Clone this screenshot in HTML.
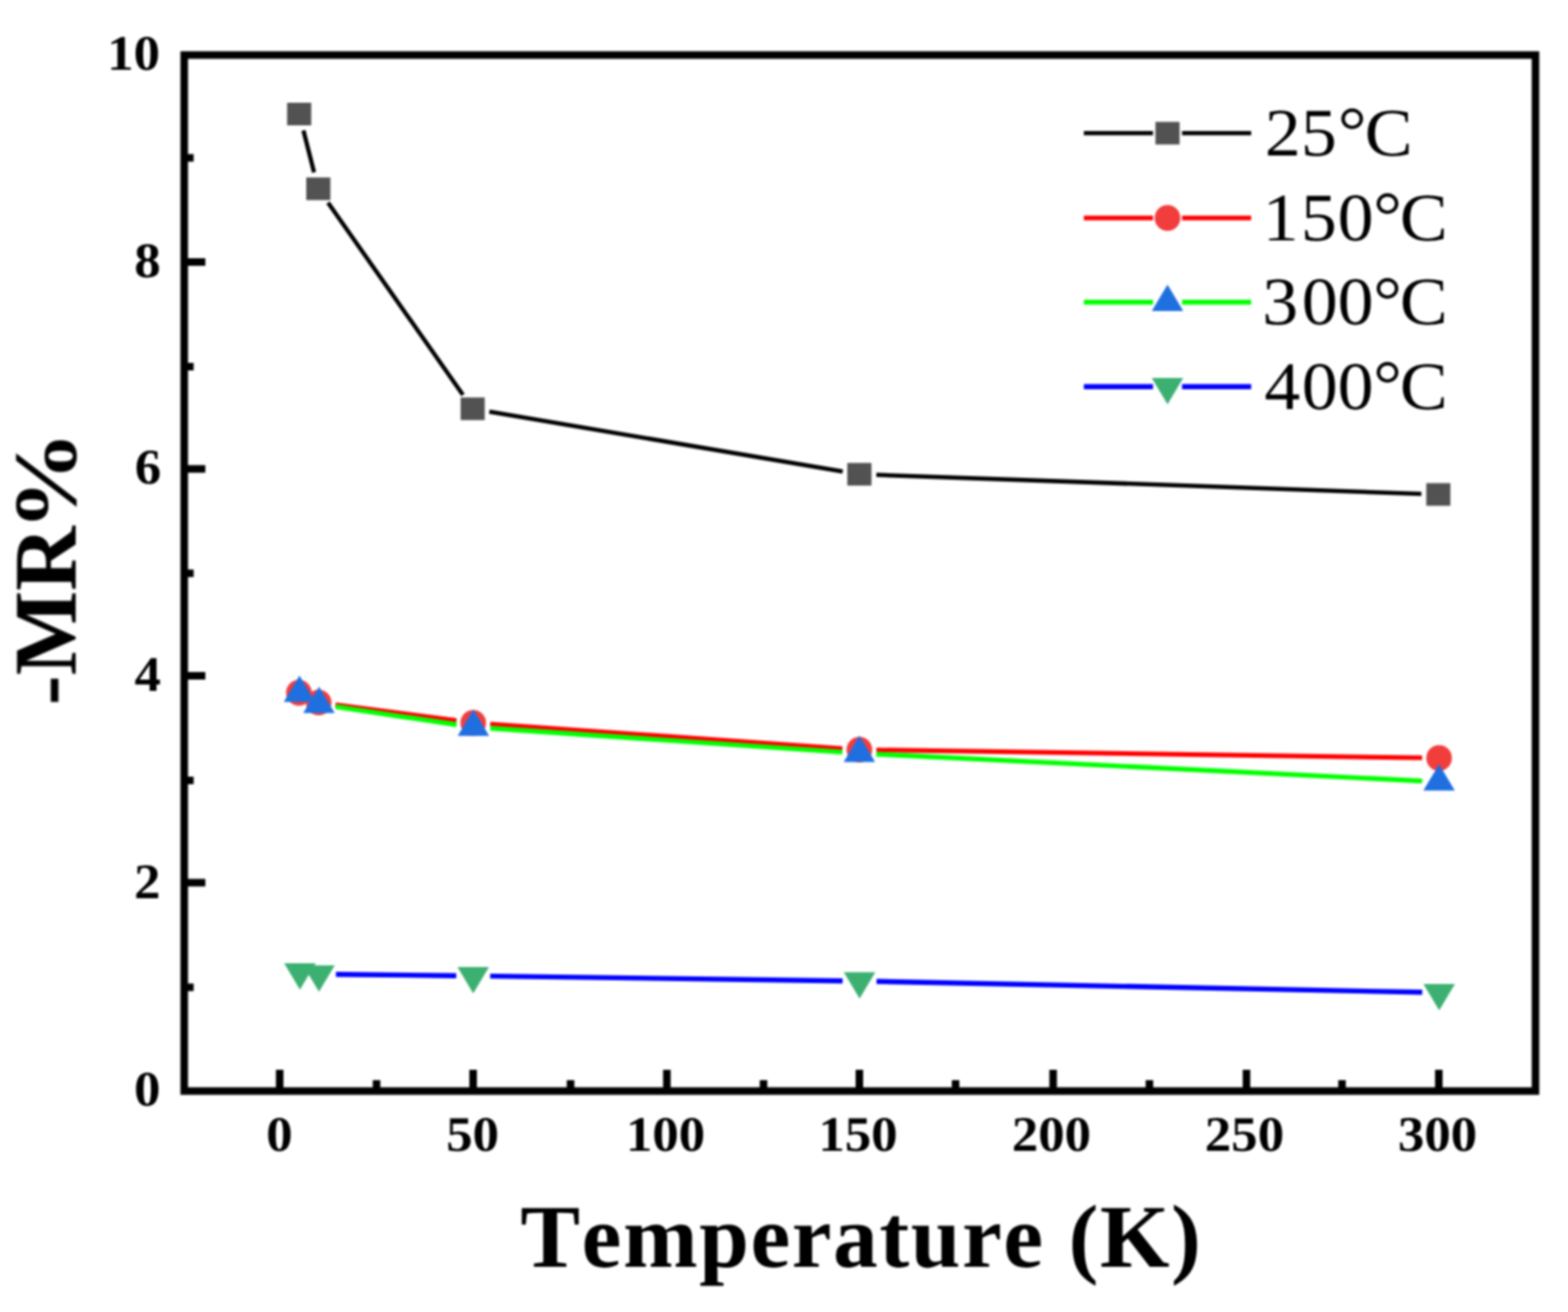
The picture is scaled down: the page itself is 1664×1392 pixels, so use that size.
<!DOCTYPE html>
<html lang="en"><head><meta charset="utf-8"><title>-MR% vs Temperature (K)</title>
<style>html,body{margin:0;padding:0;background:#fff}body{width:1664px;height:1392px;overflow:hidden}svg{display:block}text{font-family:"Liberation Serif","DejaVu Serif",serif;fill:#000;font-kerning:none;font-feature-settings:"kern" 0,"liga" 0;text-rendering:geometricPrecision}.b{font-weight:bold}</style></head><body>
<svg width="1664" height="1392" viewBox="0 0 1664 1392">
<defs><filter id="soft" x="0" y="0" width="1664" height="1392" filterUnits="userSpaceOnUse" color-interpolation-filters="sRGB"><feGaussianBlur stdDeviation="0.8"/></filter></defs>
<rect width="1664" height="1392" fill="#fff"/>
<g filter="url(#soft)">
<g>
<path d="M322.0 138.4L333.3 182.9M348.1 215.0L491.3 419.0M519.3 436.7L894.3 500.2M930.0 503.8L1508.4 524.0" stroke="#000000" stroke-width="4.5" fill="none"/>
<rect x="304.7" y="109.0" width="25.6" height="24.0" fill="#525252"/>
<rect x="325.0" y="188.3" width="25.6" height="24.0" fill="#525252"/>
<rect x="488.8" y="421.7" width="25.6" height="24.0" fill="#525252"/>
<rect x="899.2" y="491.2" width="25.6" height="24.0" fill="#525252"/>
<rect x="1513.6" y="512.6" width="25.6" height="24.0" fill="#525252"/>
</g>
<g>
<path d="M356.0 747.8L484.4 764.6M520.2 768.2L894.0 794.2M930.0 795.7L1509.2 804.0" stroke="#ff0000" stroke-width="5.0" fill="none"/>
<ellipse cx="317.2" cy="735.0" rx="13.6" ry="13.7" fill="#f23d3d"/>
<ellipse cx="338.2" cy="745.4" rx="13.6" ry="13.7" fill="#f23d3d"/>
<ellipse cx="502.2" cy="767.0" rx="13.6" ry="13.7" fill="#f23d3d"/>
<ellipse cx="912.0" cy="795.4" rx="13.6" ry="13.7" fill="#f23d3d"/>
<ellipse cx="1527.2" cy="804.3" rx="13.6" ry="13.7" fill="#f23d3d"/>
</g>
<g>
<path d="M356.3 749.8L484.6 768.9M520.4 772.7L894.0 798.0M930.0 800.1L1509.2 828.6" stroke="#00ff00" stroke-width="5.2" fill="none"/>
<polygon points="317.8,716.8 334.5,744.8 301.1,744.8" fill="#1f6fe0"/>
<polygon points="338.5,728.5 355.2,756.5 321.8,756.5" fill="#1f6fe0"/>
<polygon points="502.4,752.8 519.1,780.8 485.7,780.8" fill="#1f6fe0"/>
<polygon points="912.0,780.5 928.7,808.5 895.3,808.5" fill="#1f6fe0"/>
<polygon points="1527.2,810.8 1543.9,838.8 1510.5,838.8" fill="#1f6fe0"/>
</g>
<g>
<path d="M356.5 1033.8L484.2 1035.2M520.2 1035.6L894.2 1040.7M930.2 1041.3L1509.3 1052.8" stroke="#0000ff" stroke-width="5.4" fill="none"/>
<polygon points="318.3,1050.0 335.0,1022.0 301.6,1022.0" fill="#3cb071"/>
<polygon points="338.5,1052.3 355.2,1024.3 321.8,1024.3" fill="#3cb071"/>
<polygon points="502.2,1054.1 518.9,1026.1 485.5,1026.1" fill="#3cb071"/>
<polygon points="912.2,1059.6 928.9,1031.6 895.5,1031.6" fill="#3cb071"/>
<polygon points="1527.3,1071.9 1544.0,1043.9 1510.6,1043.9" fill="#3cb071"/>
</g>
<rect x="195.5" y="58.4" width="1434.0" height="1099.2" fill="none" stroke="#000" stroke-width="8"/>
<path d="M296.8 1157.6V1135.1M399.6 1157.6V1146.0M502.1 1157.6V1135.1M605.5 1157.6V1146.0M707.7 1157.6V1135.1M810.3 1157.6V1146.0M912.0 1157.6V1135.1M1014.1 1157.6V1146.0M1117.6 1157.6V1135.1M1219.8 1157.6V1146.0M1322.8 1157.6V1135.1M1424.2 1157.6V1146.0M1526.9 1157.6V1135.1M195.5 167.5H205.5M195.5 278.0H217.9M195.5 388.9H205.5M195.5 497.6H217.9M195.5 608.2H205.5M195.5 717.1H217.9M195.5 828.0H205.5M195.5 936.5H217.9M195.5 1047.6H205.5" stroke="#000" stroke-width="8" fill="none"/>
<text class="b" transform="translate(282.57,1221.2) scale(1.065,1)" font-size="52.7">0</text>
<text class="b" transform="translate(473.48,1221.2) scale(1.065,1)" font-size="52.7">50</text>
<text class="b" transform="translate(664.13,1221.2) scale(1.065,1)" font-size="52.7">100</text>
<text class="b" transform="translate(868.48,1221.2) scale(1.065,1)" font-size="52.7">150</text>
<text class="b" transform="translate(1073.70,1221.2) scale(1.065,1)" font-size="52.7">200</text>
<text class="b" transform="translate(1278.55,1221.2) scale(1.065,1)" font-size="52.7">250</text>
<text class="b" transform="translate(1483.42,1221.2) scale(1.065,1)" font-size="52.7">300</text>
<text class="b" transform="translate(113.66,73.6) scale(1.065,1)" font-size="52.7">10</text>
<text class="b" transform="translate(142.57,293.6) scale(1.065,1)" font-size="52.7">8</text>
<text class="b" transform="translate(142.93,513.0) scale(1.065,1)" font-size="52.7">6</text>
<text class="b" transform="translate(142.81,732.6) scale(1.065,1)" font-size="52.7">4</text>
<text class="b" transform="translate(142.20,953.4) scale(1.065,1)" font-size="52.7">2</text>
<text class="b" transform="translate(142.17,1172.6) scale(1.065,1)" font-size="52.7">0</text>
<text class="b" x="552.3" y="1343.7" font-size="95" letter-spacing="1.65">Temperature (K)</text>
<text class="b" transform="translate(80.3,748.2) rotate(-90)" font-size="95">-MR<tspan dx="-5" textLength="106" lengthAdjust="spacingAndGlyphs">%</tspan></text>
<path d="M1150.2 141.3H1223.6M1254.4 141.3H1327.8" stroke="#000000" stroke-width="4.5" fill="none"/>
<rect x="1226.2" y="129.3" width="25.6" height="24.0" fill="#525252"/>
<text transform="scale(1.06,1)" x="1266.27 1302.45 1339.51 1366.22" y="165.0 165.0 163.4 165.0" font-size="72">25°C</text>
<path d="M1150.2 231.3H1223.6M1254.4 231.3H1327.8" stroke="#ff0000" stroke-width="5.0" fill="none"/>
<ellipse cx="1239.0" cy="231.3" rx="13.6" ry="13.7" fill="#f23d3d"/>
<text transform="scale(1.06,1)" x="1264.11 1302.45 1339.26 1374.79 1401.50" y="254.6 254.6 254.6 253.0 254.6" font-size="72">150°C</text>
<path d="M1150.2 320.6H1223.6M1254.4 320.6H1327.8" stroke="#00ff00" stroke-width="5.2" fill="none"/>
<polygon points="1239.0,301.9 1255.7,329.9 1222.3,329.9" fill="#1f6fe0"/>
<text transform="scale(1.06,1)" x="1263.57 1303.42 1339.26 1374.79 1401.50" y="344.4 344.4 344.4 342.8 344.4" font-size="72">300°C</text>
<path d="M1150.2 410.2H1223.6M1254.4 410.2H1327.8" stroke="#0000ff" stroke-width="5.4" fill="none"/>
<polygon points="1239.0,428.9 1255.7,400.9 1222.3,400.9" fill="#3cb071"/>
<text transform="scale(1.06,1)" x="1265.73 1303.42 1339.26 1374.79 1401.50" y="433.6 433.6 433.6 432.0 433.6" font-size="72">400°C</text>
</g>
</svg></body></html>
